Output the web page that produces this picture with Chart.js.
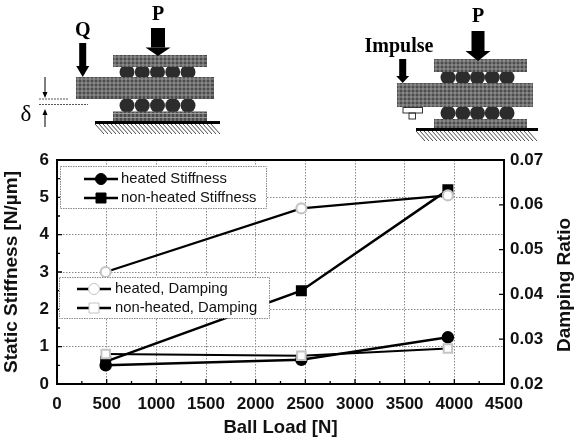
<!DOCTYPE html>
<html>
<head>
<meta charset="utf-8">
<title>Ball load chart</title>
<script src="https://cdn.jsdelivr.net/npm/chart.js@4"></script>
<style>
html, body { margin: 0; padding: 0; background: #fff; }
canvas { display: block; filter: blur(0.35px); }
</style>
</head>
<body>
<canvas id="chart" width="574" height="439"></canvas>
<script>
var ballLoad = [490, 2460, 3935];
var heatedStiffness = [0.5, 0.65, 1.25];
var nonHeatedStiffness = [0.6, 2.5, 5.2];
var heatedDamping = [0.045, 0.0592, 0.0621];
var nonHeatedDamping = [0.0267, 0.0263, 0.0279];

var FONT = '"Liberation Sans", Arial, sans-serif';
var SERIF = '"Liberation Serif", "Times New Roman", serif';

function toPoints(values) {
    return values.map(function (v, i) { return { x: ballLoad[i], y: v }; });
}

function block(ctx, x, y, w, h) {
    ctx.save();
    ctx.fillStyle = '#4c4c4c';
    ctx.fillRect(x, y, w, h);
    ctx.beginPath();
    ctx.rect(x, y, w, h);
    ctx.clip();
    ctx.strokeStyle = '#a8a8a8';
    ctx.lineWidth = 0.8;
    ctx.beginPath();
    for (var i = x + 2; i < x + w; i += 4) { ctx.moveTo(i, y); ctx.lineTo(i, y + h); }
    for (var j = y + 2; j < y + h; j += 4) { ctx.moveTo(x, j); ctx.lineTo(x + w, j); }
    ctx.stroke();
    ctx.restore();
}

function balls(ctx, x0, x1, y) {
    ctx.fillStyle = '#2c2c2c';
    for (var x = x0; x <= x1 + 0.1; x += (x1 - x0) / 4) {
        ctx.beginPath();
        ctx.arc(x, y, 7.5, 0, Math.PI * 2);
        ctx.fill();
    }
}

function arrow(ctx, x, y0, y1, shaft, head, headLen) {
    ctx.fillStyle = '#000';
    ctx.fillRect(x - shaft / 2, y0, shaft, y1 - headLen - y0);
    ctx.beginPath();
    ctx.moveTo(x - head / 2, y1 - headLen);
    ctx.lineTo(x + head / 2, y1 - headLen);
    ctx.lineTo(x, y1);
    ctx.closePath();
    ctx.fill();
}

function ground(ctx, x0, x1, y) {
    ctx.fillStyle = '#000';
    ctx.fillRect(x0, y, x1 - x0, 3);
    ctx.strokeStyle = '#333';
    ctx.lineWidth = 0.9;
    ctx.beginPath();
    for (var x = x0; x < x1 - 8; x += 4) {
        ctx.moveTo(x, y + 3);
        ctx.lineTo(x + 9, y + 13);
    }
    ctx.stroke();
}

function drawSchematics(ctx) {
    ctx.save();
    // left figure
    balls(ctx, 127, 188, 72);
    balls(ctx, 127, 188, 105.5);
    block(ctx, 113, 55, 94, 12);
    block(ctx, 76, 77, 138, 22);
    block(ctx, 113, 111.5, 94, 9.5);
    ground(ctx, 95, 220, 121);
    arrow(ctx, 158, 28, 56, 14, 25, 8.5);
    arrow(ctx, 82.7, 43, 77, 7, 13, 11);

    ctx.strokeStyle = '#555';
    ctx.lineWidth = 1;
    ctx.setLineDash([2, 1]);
    ctx.beginPath();
    ctx.moveTo(39, 99); ctx.lineTo(69, 99);
    ctx.moveTo(39, 104.5); ctx.lineTo(88, 104.5);
    ctx.stroke();
    ctx.setLineDash([]);
    arrow(ctx, 45, 77, 98, 1, 5, 6);
    ctx.fillStyle = '#000';
    ctx.fillRect(44.5, 114, 1, 13);
    ctx.beginPath();
    ctx.moveTo(42.5, 115); ctx.lineTo(47.5, 115); ctx.lineTo(45, 109);
    ctx.closePath();
    ctx.fill();

    // right figure
    balls(ctx, 448, 507, 77.5);
    balls(ctx, 448, 507, 113);
    block(ctx, 434, 59, 93, 13);
    block(ctx, 397, 83, 136, 24);
    block(ctx, 434, 119, 93, 9);
    ground(ctx, 416, 538, 128);
    arrow(ctx, 478, 31, 61, 13, 25, 10);
    arrow(ctx, 402.7, 59, 83, 7, 13, 7);
    ctx.strokeStyle = '#333';
    ctx.lineWidth = 1;
    ctx.strokeRect(403, 107.5, 19.5, 5.5);
    ctx.strokeRect(409, 113, 6.5, 6);

    ctx.fillStyle = '#000';
    ctx.textAlign = 'center';
    ctx.textBaseline = 'middle';
    ctx.font = 'bold 20px ' + SERIF;
    ctx.fillText('P', 158, 15);
    ctx.fillText('P', 478, 17);
    ctx.fillText('Q', 82.7, 31);
    ctx.fillText('Impulse', 399, 47);
    ctx.font = '23px ' + SERIF;
    ctx.fillText('δ', 26, 115);
    ctx.restore();
}

function drawMarker(ctx, style, x, y, fill, stroke) {
    ctx.fillStyle = fill;
    ctx.strokeStyle = stroke;
    ctx.lineWidth = 1;
    ctx.beginPath();
    if (style === 'circle') ctx.arc(x, y, 5.5, 0, Math.PI * 2);
    else ctx.rect(x - 5, y - 5, 10, 10);
    ctx.fill();
    ctx.stroke();
}

function legendBox(ctx, chart, x, y, w, h, indices, lineX0, lineX1, textX, rows) {
    ctx.save();
    ctx.fillStyle = '#fff';
    ctx.fillRect(x, y, w, h);
    ctx.strokeStyle = '#888';
    ctx.lineWidth = 1;
    ctx.setLineDash([1.5, 1]);
    ctx.strokeRect(x + 0.5, y + 0.5, w, h);
    ctx.setLineDash([]);
    indices.forEach(function (idx, i) {
        var ds = chart.data.datasets[idx];
        var rowY = rows[i];
        ctx.strokeStyle = '#000';
        ctx.lineWidth = 2.4;
        ctx.beginPath();
        ctx.moveTo(lineX0, rowY);
        ctx.lineTo(lineX1, rowY);
        ctx.stroke();
        drawMarker(ctx, ds.pointStyle, (lineX0 + lineX1) / 2, rowY, ds.pointBackgroundColor, ds.pointBorderColor);
        ctx.fillStyle = '#111';
        ctx.font = '14.8px ' + FONT;
        ctx.textAlign = 'left';
        ctx.textBaseline = 'middle';
        ctx.fillText(ds.label, textX, rowY);
    });
    ctx.restore();
}

var figurePlugin = {
    id: 'figure',
    beforeDatasetsDraw: function (chart) {
        var ctx = chart.ctx;
        var a = chart.chartArea;
        var xs = chart.scales.x;
        var ys = chart.scales.y;
        var y2 = chart.scales.y2;
        ctx.save();
        ctx.strokeStyle = '#000';
        ctx.lineWidth = 1.3;
        ctx.beginPath();
        for (var v = 0; v <= 4500; v += 250) {
            var tx = xs.getPixelForValue(v);
            ctx.moveTo(tx, a.bottom);
            ctx.lineTo(tx, a.bottom - (v % 500 === 0 ? 5 : 3));
        }
        for (var s = 0; s <= 6; s += 0.5) {
            var ty = ys.getPixelForValue(s);
            ctx.moveTo(a.left, ty);
            ctx.lineTo(a.left + (s % 1 === 0 ? 5 : 3), ty);
        }
        for (var d = 2; d <= 7; d += 1) {
            var ry = y2.getPixelForValue(d / 100);
            ctx.moveTo(a.right, ry);
            ctx.lineTo(a.right - 5, ry);
        }
        ctx.stroke();
        ctx.lineWidth = 2;
        ctx.strokeRect(a.left, a.top, a.right - a.left, a.bottom - a.top);
        ctx.restore();
    },
    afterDatasetsDraw: function (chart) {
        var ctx = chart.ctx;
        legendBox(ctx, chart, 60, 166, 206, 42, [0, 1], 84, 118, 121, [179, 198]);
        legendBox(ctx, chart, 59, 277, 210, 41, [2, 3], 77, 111, 115, [289, 308]);
    },
    afterDraw: function (chart) {
        var ctx = chart.ctx;
        drawSchematics(ctx);
        ctx.save();
        ctx.fillStyle = '#111';
        ctx.font = 'bold 19px ' + FONT;
        ctx.textAlign = 'center';
        ctx.textBaseline = 'middle';
        ctx.translate(565, 285);
        ctx.rotate(-Math.PI / 2);
        ctx.fillText('Damping Ratio', 0, 0);
        ctx.restore();
    }
};

new Chart(document.getElementById('chart').getContext('2d'), {
    type: 'line',
    data: {
        datasets: [{
            label: 'heated Stiffness',
            data: toPoints(heatedStiffness),
            yAxisID: 'y',
            order: 3,
            borderColor: '#000',
            borderWidth: 2.5,
            pointStyle: 'circle',
            pointRadius: 5,
            pointBackgroundColor: '#000',
            pointBorderColor: '#000'
        }, {
            label: 'non-heated Stiffness',
            data: toPoints(nonHeatedStiffness),
            yAxisID: 'y',
            order: 4,
            borderColor: '#000',
            borderWidth: 2.5,
            pointStyle: 'rect',
            pointRadius: 6,
            pointBackgroundColor: '#000',
            pointBorderColor: '#000'
        }, {
            label: 'heated, Damping',
            data: toPoints(heatedDamping),
            yAxisID: 'y2',
            order: 1,
            borderColor: '#000',
            borderWidth: 2.2,
            pointStyle: 'circle',
            pointRadius: 5,
            pointBackgroundColor: '#fff',
            pointBorderColor: '#c4c4c4'
        }, {
            label: 'non-heated, Damping',
            data: toPoints(nonHeatedDamping),
            yAxisID: 'y2',
            order: 2,
            borderColor: '#000',
            borderWidth: 2,
            pointStyle: 'rect',
            pointRadius: 6,
            pointBackgroundColor: '#fff',
            pointBorderColor: '#c4c4c4'
        }]
    },
    options: {
        responsive: false,
        animation: false,
        layout: { padding: { top: 160, left: 0, right: 0, bottom: 0 } },
        plugins: { legend: { display: false }, tooltip: { enabled: false } },
        scales: {
            x: {
                type: 'linear',
                min: 0,
                max: 4500,
                afterFit: function (scale) { scale.height = 55; },
                ticks: {
                    stepSize: 500,
                    autoSkip: false,
                    maxRotation: 0,
                    padding: 10,
                    color: '#111',
                    font: { family: FONT, size: 17, weight: 'bold' },
                    callback: function (v) { return String(v); }
                },
                grid: { color: '#8a8a8a', lineWidth: 1, drawTicks: false },
                border: { display: false, dash: [1.5, 1.5] },
                title: {
                    display: true,
                    text: 'Ball Load [N]',
                    color: '#111',
                    font: { family: FONT, size: 18.5, weight: 'bold' },
                    padding: { top: 2, bottom: 0 }
                }
            },
            y: {
                position: 'left',
                min: 0,
                max: 6,
                afterFit: function (scale) { scale.width = 57; },
                ticks: {
                    stepSize: 1,
                    padding: 8,
                    color: '#111',
                    font: { family: FONT, size: 17, weight: 'bold' }
                },
                grid: { color: '#8a8a8a', lineWidth: 1, drawTicks: false },
                border: { display: false, dash: [1.5, 1.5] },
                title: {
                    display: true,
                    text: 'Static Stiffness [N/µm]',
                    color: '#111',
                    font: { family: FONT, size: 19, weight: 'bold' },
                    padding: { top: 0, bottom: 0 }
                }
            },
            y2: {
                position: 'right',
                min: 0.02,
                max: 0.07,
                afterFit: function (scale) { scale.width = 70; },
                ticks: {
                    stepSize: 0.01,
                    padding: 6,
                    color: '#111',
                    font: { family: FONT, size: 17, weight: 'bold' },
                    callback: function (v) { return v.toFixed(2); }
                },
                grid: { display: false, drawTicks: false },
                border: { display: false }
            }
        }
    },
    plugins: [figurePlugin]
});
</script>
</body>
</html>
